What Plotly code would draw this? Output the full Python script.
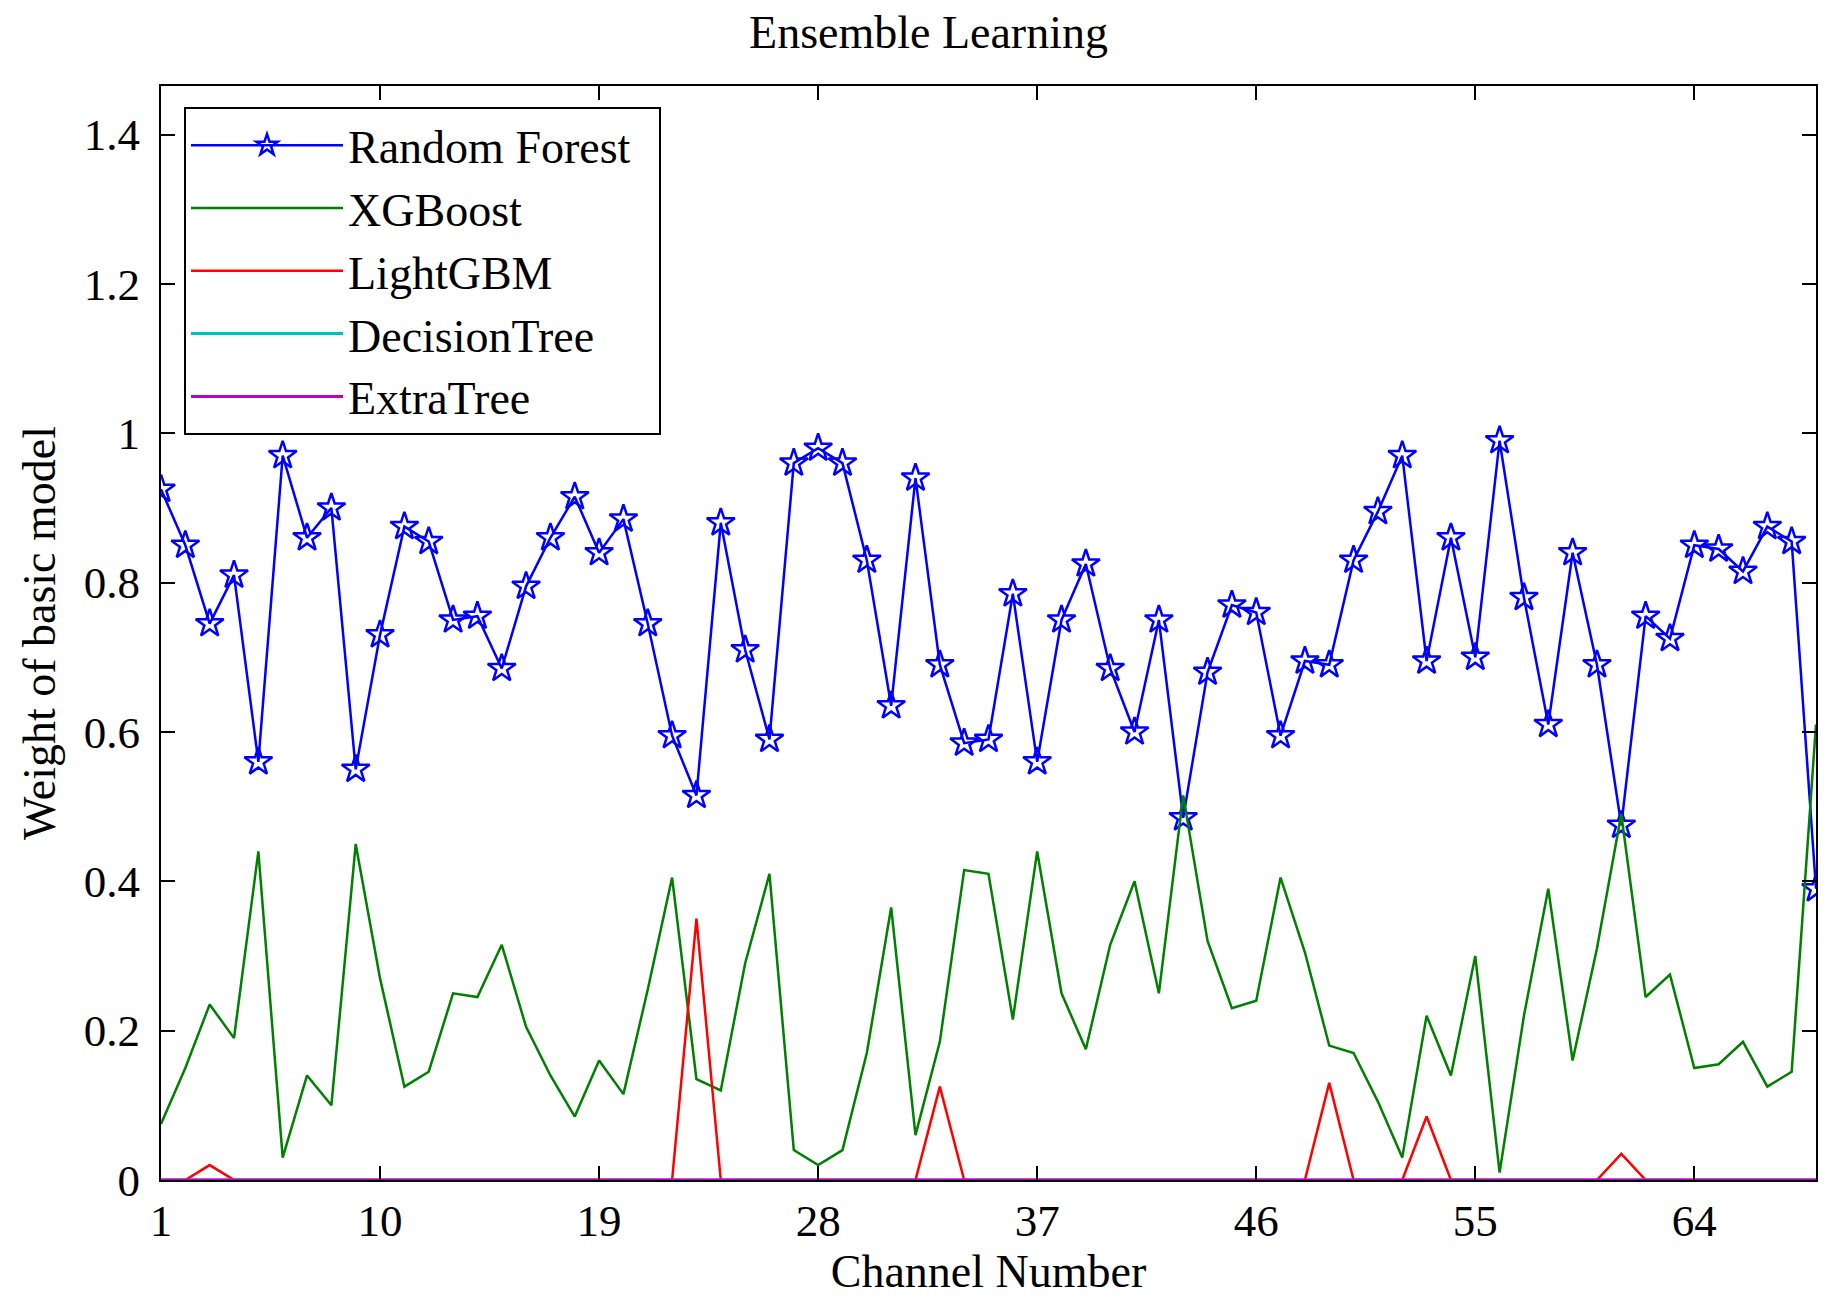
import plotly.graph_objects as go

channels = list(range(1, 70))

random_forest = [0.925, 0.85, 0.745, 0.81, 0.56, 0.97, 0.86, 0.90, 0.55, 0.73,
                 0.875, 0.855, 0.75, 0.755, 0.685, 0.795, 0.86, 0.915, 0.84, 0.885,
                 0.745, 0.595, 0.515, 0.88, 0.71, 0.59, 0.96, 0.98, 0.96, 0.83,
                 0.635, 0.94, 0.69, 0.585, 0.59, 0.785, 0.56, 0.75, 0.825, 0.685,
                 0.60, 0.75, 0.485, 0.68, 0.77, 0.76, 0.595, 0.695, 0.69, 0.83,
                 0.895, 0.97, 0.695, 0.86, 0.70, 0.99, 0.78, 0.61, 0.84, 0.69,
                 0.475, 0.755, 0.725, 0.85, 0.845, 0.815, 0.875, 0.855, 0.39]

xgboost = [0.075, 0.15, 0.235, 0.19, 0.44, 0.03, 0.14, 0.10, 0.45, 0.27,
           0.125, 0.145, 0.25, 0.245, 0.315, 0.205, 0.14, 0.085, 0.16, 0.115,
           0.255, 0.405, 0.135, 0.12, 0.29, 0.41, 0.04, 0.02, 0.04, 0.17,
           0.365, 0.06, 0.185, 0.415, 0.41, 0.215, 0.44, 0.25, 0.175, 0.315,
           0.40, 0.25, 0.515, 0.32, 0.23, 0.24, 0.405, 0.305, 0.18, 0.17,
           0.105, 0.03, 0.22, 0.14, 0.30, 0.01, 0.22, 0.39, 0.16, 0.31,
           0.49, 0.245, 0.275, 0.15, 0.155, 0.185, 0.125, 0.145, 0.61]

lightgbm = [0, 0, 0.02, 0, 0, 0, 0, 0, 0, 0,
            0, 0, 0, 0, 0, 0, 0, 0, 0, 0,
            0, 0, 0.35, 0, 0, 0, 0, 0, 0, 0,
            0, 0, 0.125, 0, 0, 0, 0, 0, 0, 0,
            0, 0, 0, 0, 0, 0, 0, 0, 0.13, 0,
            0, 0, 0.085, 0, 0, 0, 0, 0, 0, 0,
            0.035, 0, 0, 0, 0, 0, 0, 0, 0]

decision_tree = [0] * 69
extra_tree = [0] * 69

x_ticks = [1, 10, 19, 28, 37, 46, 55, 64]
y_ticks = [0, 0.2, 0.4, 0.6, 0.8, 1, 1.2, 1.4]
y_labels = ['0', '0.2', '0.4', '0.6', '0.8', '1', '1.2', '1.4']

FONT = 'Liberation Serif'
PAD = '\u00a0\u00a0'  # a bit of room on the right of the legend box

fig = go.Figure()
fig.add_trace(go.Scatter(
    x=channels, y=random_forest, name='Random Forest' + PAD, mode='lines+markers',
    line=dict(color='#0000FF', width=2.5),
    marker=dict(symbol='star-open', size=21, color='#0000FF', line=dict(width=2.5, color='#0000FF')),
))
fig.add_trace(go.Scatter(
    x=channels, y=xgboost, name='XGBoost', mode='lines',
    line=dict(color='#008000', width=2.5),
))
fig.add_trace(go.Scatter(
    x=channels, y=lightgbm, name='LightGBM', mode='lines',
    line=dict(color='#FF0000', width=2.5),
))
fig.add_trace(go.Scatter(
    x=channels, y=decision_tree, name='DecisionTree', mode='lines',
    line=dict(color='#00BFBF', width=3),
))
fig.add_trace(go.Scatter(
    x=channels, y=extra_tree, name='ExtraTree', mode='lines',
    line=dict(color='#BF00BF', width=3),
))

fig.update_layout(
    width=1841, height=1308,
    paper_bgcolor='white', plot_bgcolor='white',
    margin=dict(l=153, r=33, t=78, b=136),
    font=dict(family=FONT, size=45, color='black'),
    title=dict(text='Ensemble Learning', x=0.5, xanchor='center', y=0.982, yanchor='middle',
               font=dict(family=FONT, size=46, color='black')),
    showlegend=True,
    legend=dict(
        x=0.0139, y=0.981, xanchor='left', yanchor='top',
        bgcolor='white', bordercolor='black', borderwidth=2,
        font=dict(family=FONT, size=46, color='black'),
        itemwidth=152, tracegroupgap=0,
    ),
)

fig.update_xaxes(
    range=[1, 69], tickvals=x_ticks, ticks='inside', ticklen=14, tickwidth=2,
    tickcolor='black', showline=True, linecolor='black', linewidth=2, mirror='ticks',
    showgrid=False, zeroline=False, tickfont=dict(family=FONT, size=45),
    title=dict(text='Channel Number', font=dict(family=FONT, size=46), standoff=10),
)
fig.update_yaxes(
    range=[0, 1.465], tickvals=y_ticks, ticktext=y_labels, ticks='inside', ticklen=14,
    tickwidth=2, tickcolor='black', showline=True, linecolor='black', linewidth=2,
    mirror='ticks', showgrid=False, zeroline=False, tickfont=dict(family=FONT, size=45),
    ticklabelstandoff=10,
    title=dict(text='Weight of basic model', font=dict(family=FONT, size=46), standoff=14),
)

fig.write_html('out.html')
